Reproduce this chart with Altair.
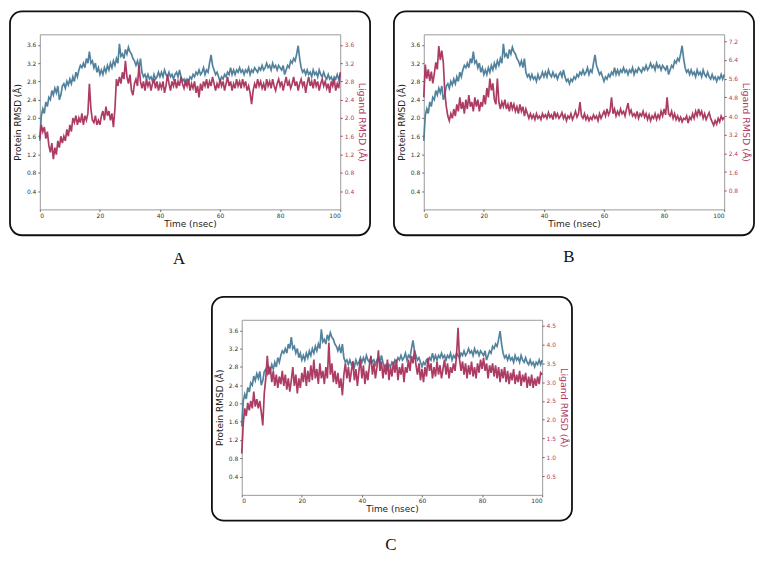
import altair as alt
import pandas as pd

# time axis: 0 .. 100 ns, one sample every 0.5 ns
time_ns = [i / 2 for i in range(201)]

protein = [
    1.5, 2.05, 2.2, 2.1, 2.35, 2.25, 2.45, 2.4, 2.6, 2.5,
    2.65, 2.55, 2.7, 2.4, 2.5, 2.7, 2.75, 2.65, 2.8, 2.72,
    2.85, 2.75, 2.9, 2.8, 3.0, 2.9, 3.05, 3.15, 3.1, 3.2,
    3.1, 3.3, 3.2, 3.45, 3.2, 3.25, 3.1, 3.2, 3.0, 3.1,
    2.95, 3.05, 2.95, 3.1, 3.0, 3.15, 3.05, 3.2, 3.1, 3.25,
    3.15, 3.3, 3.2, 3.62, 3.35, 3.4, 3.3, 3.5, 3.4, 3.55,
    3.45, 3.4, 3.3, 3.25, 3.15, 3.25, 3.1, 3.3, 3.0, 2.9,
    2.95, 2.85, 2.95, 2.85, 2.9, 2.8, 2.95, 2.85, 2.9, 3.0,
    2.9, 3.0, 2.9, 3.05, 2.95, 2.9, 3.0, 2.9, 2.95, 2.85,
    2.95, 3.0, 2.9, 3.05, 2.9, 2.8, 2.85, 2.75, 2.85, 2.8,
    2.9, 2.85, 2.95, 2.9, 3.0, 2.95, 3.05, 2.95, 3.0, 3.1,
    2.95, 3.05, 3.0, 3.2, 3.38, 3.15, 3.05, 2.95, 3.0, 2.9,
    2.8, 2.9, 2.85, 2.95, 2.9, 3.0, 2.95, 3.1, 2.95, 3.05,
    2.95, 3.05, 3.0, 3.1, 3.0, 3.05, 2.95, 3.05, 3.0, 3.1,
    2.95, 3.05, 3.0, 3.1, 3.05, 3.0, 3.1, 3.05, 3.15, 3.05,
    3.1, 3.2, 3.1, 3.15, 3.05, 3.2, 3.1, 3.15, 3.05, 3.15,
    3.1, 3.05, 3.15, 2.95, 3.05, 3.15, 3.1, 3.25, 3.2, 3.3,
    3.25, 3.4, 3.58, 3.3, 3.1, 3.0, 3.05, 2.95, 3.05, 2.95,
    3.0, 2.9, 3.05, 2.95, 3.0, 2.9, 3.05, 2.95, 2.9, 3.0,
    2.9, 2.85, 2.95, 2.85, 2.9, 2.8, 2.9, 2.85, 2.95, 2.85,
    2.95,
]

ligand_a = [
    1.55, 1.85, 1.7, 1.8, 1.55, 1.7, 1.4, 1.25, 1.45, 1.1,
    1.35, 1.2, 1.5, 1.35, 1.6, 1.45, 1.6, 1.5, 1.75, 1.6,
    1.85, 1.7, 2.0, 1.9, 2.05, 1.85, 2.0, 1.9, 2.1, 1.85,
    2.05, 1.95, 2.1, 2.75, 2.2, 1.95, 1.9, 2.05, 1.85, 1.95,
    1.85, 2.05, 2.15, 1.95, 2.25, 2.05, 2.15, 1.95, 2.1, 1.8,
    2.2, 2.85, 2.7, 2.9, 2.75, 3.0, 2.85, 3.25, 2.9, 2.75,
    2.95, 2.6, 2.5, 2.75, 2.85, 2.7, 3.15, 2.8, 2.65, 2.8,
    2.6, 2.85, 2.7, 2.8, 2.6, 2.75, 2.85, 2.65, 2.8, 2.6,
    2.75, 2.65, 2.8, 2.55, 2.7, 2.95, 2.75, 2.6, 2.8, 2.7,
    2.85, 2.65, 2.8, 2.7, 2.9, 2.75, 2.65, 2.8, 2.7, 2.85,
    2.6, 2.75, 2.65, 2.8, 2.55, 2.7, 2.45, 2.75, 2.6, 2.8,
    2.7, 2.85, 2.65, 2.8, 2.7, 2.9, 2.75, 2.6, 2.75, 2.65,
    2.85, 2.7, 2.8, 2.6, 2.75, 2.9, 2.7, 2.8, 2.6, 2.75,
    2.65, 2.85, 2.7, 2.8, 2.65, 2.85, 2.7, 2.8, 2.6, 2.7,
    2.55, 2.3, 2.6, 2.75, 2.65, 2.85, 2.7, 2.8, 2.65, 2.75,
    2.6, 2.85, 2.7, 2.8, 2.65, 2.85, 2.7, 2.6, 2.75, 2.85,
    2.7, 2.8, 2.6, 2.75, 2.9, 2.7, 2.8, 2.65, 2.75, 2.9,
    2.7, 2.8, 2.6, 2.75, 2.85, 2.7, 2.8, 2.55, 2.75, 2.9,
    2.7, 2.8, 2.65, 2.85, 2.7, 2.8, 2.6, 2.75, 2.85, 2.7,
    2.8, 2.65, 2.75, 2.55, 2.8, 2.7, 2.85, 2.6, 2.75, 2.65,
    3.0,
]

ligand_b = [
    4.8, 6.2, 5.6, 6.0, 5.5, 5.9, 5.4, 5.8, 6.3, 6.0,
    7.0, 6.4, 6.8, 6.3, 5.0, 4.4, 4.0, 3.8, 4.1, 3.9,
    4.3, 4.0, 4.5, 4.2, 4.8, 4.3, 4.6, 4.1, 4.7, 4.3,
    4.9, 4.4, 4.6, 4.2, 4.8, 4.4, 4.7, 4.2, 4.6, 4.4,
    4.9, 4.5, 5.2, 4.8, 5.6, 5.1, 5.4, 4.7, 4.5, 5.6,
    4.6, 4.3, 4.6, 4.4, 4.7, 4.3, 4.5, 4.2, 4.6, 4.3,
    4.5, 4.2, 4.4, 4.1, 4.5, 4.2, 4.4, 4.0, 4.3, 4.1,
    3.9, 4.1, 3.9, 4.05, 3.85, 4.1, 3.9, 4.0, 3.85, 4.1,
    3.95, 4.05, 3.9, 4.15, 3.95, 4.05, 3.85, 4.2, 3.95, 4.1,
    3.9, 4.0, 4.15, 3.9, 4.05, 3.8, 4.0, 3.9, 4.1, 3.85,
    4.0, 4.2, 3.95, 4.1, 4.6, 4.0, 3.9, 4.1, 3.85, 4.0,
    3.8, 3.95, 3.85, 4.05, 3.9, 4.0, 3.8, 4.1, 3.9, 4.05,
    4.2, 4.0, 4.3, 4.05, 4.2, 4.8, 4.1, 4.3, 4.0, 4.2,
    4.05, 4.3, 4.1, 4.2, 4.0, 4.3, 4.55, 4.1, 4.25, 4.0,
    4.1, 3.95, 4.2, 3.9, 4.1, 4.0, 4.2, 3.95, 4.1, 3.85,
    4.05, 3.8, 4.0, 3.9, 4.1, 3.85, 4.05, 3.9, 4.2, 4.0,
    4.3, 4.05, 4.8, 4.1, 4.0, 4.2, 3.9, 4.1, 3.85, 4.0,
    3.8, 3.95, 3.75, 3.9, 3.85, 4.0, 3.7, 3.95, 3.85, 4.1,
    3.9, 4.2, 4.0, 4.3, 4.05, 4.2, 3.9, 4.1, 3.85, 4.0,
    4.15, 3.9, 3.75, 3.6, 3.8, 3.65, 3.9, 3.75, 4.0, 3.85,
    3.95,
]

ligand_c = [
    1.1, 1.9, 2.3, 2.1, 2.45, 2.25, 2.5, 2.3, 2.75, 2.35,
    2.55, 2.3, 2.5, 2.2, 1.85, 2.7, 3.1, 3.7, 3.2, 3.4,
    3.0, 3.3, 2.9, 3.2, 2.85, 3.15, 2.95, 3.3, 2.9, 3.2,
    2.8, 3.1, 2.75, 3.05, 3.4, 2.9, 3.2, 2.7, 3.1, 2.85,
    3.25, 3.0, 3.4, 2.9, 3.3, 3.0, 3.45, 3.05, 3.6, 3.1,
    3.35, 2.95, 3.5, 3.1, 3.3, 2.95, 3.4, 3.1, 4.05, 3.2,
    3.5, 3.0, 3.3, 2.95, 3.25, 2.85, 3.1, 2.65, 3.2, 3.5,
    3.1, 3.4, 3.0, 3.3, 3.55, 3.05, 3.35, 2.9, 3.3, 3.6,
    3.1, 3.45, 2.95, 3.3, 3.05, 3.45, 3.7, 3.2, 3.5, 3.1,
    3.4, 3.85, 3.3, 3.55, 3.1, 3.45, 3.2, 3.6, 3.05, 3.4,
    3.15, 3.55, 3.25, 3.6, 3.05, 3.4, 3.2, 3.5, 3.0, 3.4,
    3.25, 3.6, 3.3, 3.7, 3.5, 3.85, 3.45, 3.2, 3.5, 3.05,
    3.35, 3.0, 3.4, 3.15, 3.65, 3.3, 3.5, 3.1, 3.4, 3.15,
    3.55, 3.2, 3.45, 3.1, 3.35, 3.6, 3.2, 3.5, 3.1, 3.4,
    3.25, 3.5, 3.3, 3.7, 4.45, 3.6, 3.3, 3.55, 3.2, 3.5,
    3.1, 3.45, 3.2, 3.55, 3.15, 3.4, 3.1, 3.5, 3.25, 3.6,
    3.35, 3.65, 3.3, 3.5, 3.1, 3.45, 3.25, 3.5, 3.15, 3.45,
    3.1, 3.4, 3.0, 3.35, 3.1, 3.4, 3.0, 3.3, 2.95, 3.25,
    3.05, 3.35, 2.95, 3.2, 3.0, 3.3, 2.9, 3.2, 3.0, 3.25,
    2.85, 3.15, 2.9, 3.2, 2.85, 3.1, 2.9, 3.15, 2.95, 3.25,
    3.2,
]

x_ticks = [0, 20, 40, 60, 80, 100]
protein_ticks = [0.4, 0.8, 1.2, 1.6, 2.0, 2.4, 2.8, 3.2, 3.6]
lig_a_ticks = [0.4, 0.8, 1.2, 1.6, 2.0, 2.4, 2.8, 3.2, 3.6]
lig_b_ticks = [0.8, 1.6, 2.4, 3.2, 4.0, 4.8, 5.6, 6.4, 7.2]
lig_c_ticks = [0.5, 1.0, 1.5, 2.0, 2.5, 3.0, 3.5, 4.0, 4.5]

W, H = 302, 176
BLUE = "#4a7b98"
RED = "#a8325c"
RED_TXT = "#b03a66"
FONT = "DejaVu Sans"


def panel(lig, lig_top, lig_ticks, label, lab_x, lab_y):
    df = pd.DataFrame({"t": time_ns, "p": protein, "l": lig})
    one = pd.DataFrame({"k": [0]})
    xenc = alt.X(
        "t:Q",
        scale=alt.Scale(domain=[0, 100], nice=False),
        axis=alt.Axis(
            values=x_ticks, title="Time (nsec)", grid=False, domain=False,
            tickSize=2, tickColor="#666", labelFontSize=6, labelColor="#333",
            labelPadding=1, labelFont=FONT, titleFont=FONT, titleFontSize=9,
            titleFontWeight="normal", titleColor="#222", titlePadding=1,
        ),
    )
    prot = alt.Chart(df).mark_line(color=BLUE, strokeWidth=1.7, opacity=0.95).encode(
        x=xenc,
        y=alt.Y(
            "p:Q",
            scale=alt.Scale(domain=[0, 3.83], nice=False, zero=False),
            axis=alt.Axis(
                orient="left", values=protein_ticks, format=".1f",
                title="Protein RMSD (Å)", grid=False, domain=False,
                tickSize=2, tickColor="#666", labelFontSize=6, labelColor="#333",
                labelPadding=2, labelFont=FONT, titleFont=FONT, titleFontSize=9,
                titleFontWeight="normal", titleColor="#222", titlePadding=4,
            ),
        ),
    )
    ligl = alt.Chart(df).mark_line(color=RED, strokeWidth=1.7, opacity=0.95).encode(
        x=xenc,
        y=alt.Y(
            "l:Q",
            scale=alt.Scale(domain=[0, lig_top], nice=False, zero=False),
            axis=alt.Axis(
                orient="right", values=lig_ticks, format=".1f",
                title="Ligand RMSD (Å)", grid=False, domain=False,
                tickSize=2, tickColor=RED_TXT, labelFontSize=6, labelColor=RED_TXT,
                labelPadding=2, labelFont=FONT, titleFont=FONT, titleFontSize=9.5,
                titleFontWeight="normal", titleColor=RED_TXT, titlePadding=3,
            ),
        ),
    )
    box = alt.Chart(one).mark_rect(
        fillOpacity=0, stroke="#111", strokeWidth=1.8, cornerRadius=12
    ).encode(
        x=alt.value(-30), x2=alt.value(W + 30), y=alt.value(-23), y2=alt.value(H + 26)
    )
    lab = alt.Chart(one).mark_text(
        text=label, font="Liberation Serif", fontSize=17, color="#111",
        align="center", baseline="middle",
    ).encode(x=alt.value(lab_x), y=alt.value(lab_y))
    return (
        alt.layer(box, prot, ligl, lab)
        .resolve_scale(y="independent")
        .properties(width=W, height=H)
    )


pa = panel(ligand_a, 3.83, lig_a_ticks, "A", 140, H + 50)
pb = panel(ligand_b, 7.5, lig_b_ticks, "B", 146, H + 48)
pc = panel(ligand_c, 4.66, lig_c_ticks, "C", 150, H + 50)

spacer = alt.Chart(pd.DataFrame({"k": [0]})).mark_point(opacity=0).encode(
    x=alt.value(0), y=alt.value(0)
).properties(width=203, height=H, view=alt.ViewBackground(stroke="transparent"))

row1 = alt.hconcat(pa, pb, spacing=84, bounds="flush")
row2 = alt.hconcat(spacer, pc, spacing=0, bounds="flush")

chart = (
    alt.vconcat(row1, row2, spacing=27)
    .properties(padding=0, background="white")
    .configure_view(stroke="#9a9a9a", strokeWidth=1)
)

chart.save("out.html", embed_options={"renderer": "svg", "actions": False})
